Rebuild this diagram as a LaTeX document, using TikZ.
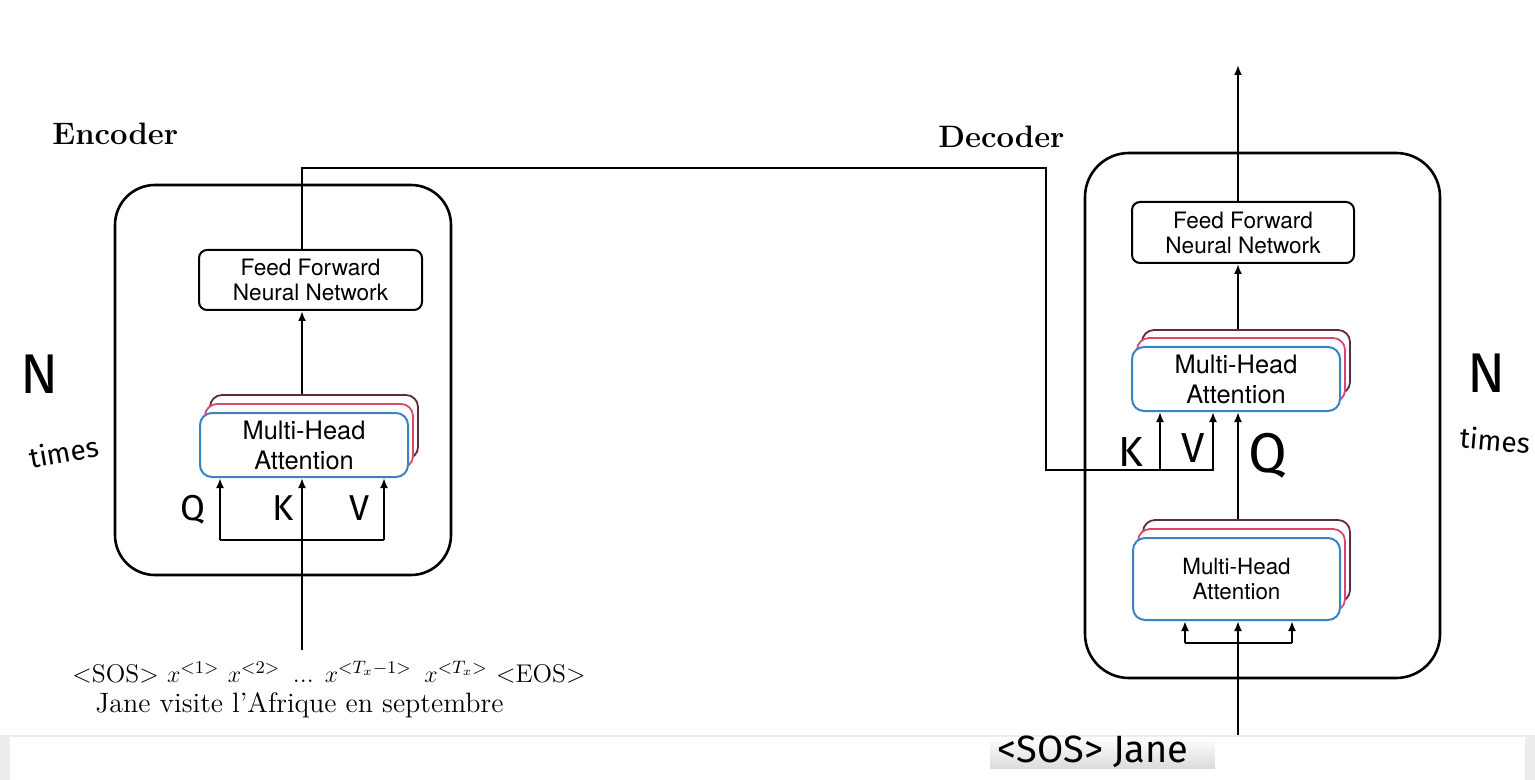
\documentclass[tikz,border=0pt]{standalone}
\usepackage{fontspec}
\setsansfont{TeX Gyre Heros}
\newfontfamily\hand{Fira Sans}
\usetikzlibrary{arrows.meta,fit}
\definecolor{mhablue}{HTML}{3B82C4}
\definecolor{mhapink}{HTML}{D9476E}
\definecolor{mhapurple}{HTML}{5E2A4A}
\begin{document}
\begin{tikzpicture}[x=0.5pt,y=-0.5pt,
  outer/.style={draw, line width=1.3pt, rounded corners=20pt, inner sep=0pt},
  ffn/.style={draw, line width=1pt, rounded corners=4pt, inner sep=0pt},
  ffntext/.style={align=center, inner sep=0pt, font=\sffamily\fontsize{11.3}{12.5}\selectfont},
  mhafront/.style={draw=mhablue, fill=white, line width=1pt, rounded corners=6pt, inner sep=0pt},
  mhaback/.style={draw=#1, fill=white, line width=0.9pt, rounded corners=6pt, inner sep=0pt},
  mhatext/.style 2 args={align=center, inner sep=0pt, font=\sffamily\fontsize{#1}{#2}\selectfont},
  arr/.style={-{Latex[length=5pt,width=4pt]}, line width=1pt},
  wire/.style={line width=1pt},
  hw/.style={inner sep=0pt, font=\hand\fontsize{#1}{#1}\selectfont},
  serif/.style={inner sep=0pt, anchor=west}
]
\useasboundingbox (0,0) rectangle (1535,780);
\fill[white] (0,0) rectangle (1535,780);

% ---------------- Encoder ----------------
\node[serif, font=\bfseries\fontsize{15.5}{18}\selectfont] (enclabel) at (52,134) {Encoder};
\node[outer, fit={(115,185) (451,575)}] (encbox) {};
\node[ffn, fit={(199,250) (422,310)}] (encffn) {};
\node[ffntext] (encffnt) at (encffn.center) {Feed Forward\\Neural Network};
\node[mhaback=mhapurple, fit={(210,395) (418,459)}] (encmha3) {};
\node[mhaback=mhapink, fit={(205,404) (413,468)}] (encmha2) {};
\node[mhafront, fit={(200,413) (408,477)}] (encmha) {};
\node[mhatext={12.7}{15}] (encmhat) at (encmha.center) {Multi-Head\\Attention};

\coordinate (encx) at (302,0);
\coordinate (encsrc) at (302,650);
\coordinate (encq) at (220,540);
\coordinate (encv) at (384,540);
\draw[arr] (encmha3.north -| encx) -- (encffn.south -| encx);
\draw[arr] (encsrc) -- (encmha.south -| encsrc);
\draw[wire] (encq) -- (encv);
\draw[arr] (encq) -- (encmha.south -| encq);
\draw[arr] (encv) -- (encmha.south -| encv);
\node[hw=18] (encQ) at (193,510) {Q};
\node[hw=18] (encK) at (283,508) {K};
\node[hw=18] (encV) at (360,508) {V};

\node[serif, font=\fontsize{12.8}{15}\selectfont] (enctok) at (72,672)
  {\textless SOS\textgreater{} $x^{<1>}$ $x^{<2>}$ \,... $x^{<T_x-1>}$ \,$x^{<T_x>}$ \textless EOS\textgreater};
\node[serif, font=\fontsize{14}{16}\selectfont] (encfr) at (95,705) {Jane visite l'Afrique en septembre};

\node[hw=28] (nleft) at (40,374) {N};
\node[hw=14, rotate=10] (tleft) at (64,452) {times};

% ---------------- Decoder ----------------
\node[serif, font=\bfseries\fontsize{15.5}{18}\selectfont] (declabel) at (938,137) {Decoder};
\node[outer, rounded corners=22pt, fit={(1085,153) (1440,678)}] (decbox) {};
\node[ffn, fit={(1132,202) (1354,263)}] (decffn) {};
\node[ffntext] (decffnt) at (decffn.center) {Feed Forward\\Neural Network};
\node[mhaback=mhapurple, fit={(1142,330) (1350,394)}] (decmha3) {};
\node[mhaback=mhapink, fit={(1137,338) (1345,402)}] (decmha2) {};
\node[mhafront, fit={(1132,347) (1340,411)}] (decmha) {};
\node[mhatext={12.7}{15}] (decmhat) at (decmha.center) {Multi-Head\\Attention};
\node[mhaback=mhapurple, fit={(1143,520) (1350,602)}] (declow3) {};
\node[mhaback=mhapink, fit={(1138,529) (1345,611)}] (declow2) {};
\node[mhafront, fit={(1133,538) (1340,620)}] (declow) {};
\node[mhatext={11.2}{13}] (declowt) at (declow.center) {Multi-Head\\Attention};

\coordinate (decx) at (1238,0);
\coordinate (decout) at (1238,65);
\coordinate (decsrc) at (1238,735);
\coordinate (decl) at (1185,643);
\coordinate (decr) at (1292,643);
\draw[arr] (decffn.north -| decx) -- (decout);
\draw[arr] (decmha3.north -| decx) -- (decffn.south -| decx);
\draw[arr] (declow3.north -| decx) -- (decmha.south -| decx);
\draw[arr] (decsrc) -- (declow.south -| decsrc);
\draw[wire] (decl) -- (decr);
\draw[arr] (decl) -- (declow.south -| decl);
\draw[arr] (decr) -- (declow.south -| decr);

% encoder output to decoder K, V
\coordinate (bend1) at (1046,168);
\coordinate (kvbus) at (1046,470);
\coordinate (kx) at (1160,470);
\coordinate (vx) at (1213,0);
\draw[arr] (encffn.north -| encx) |- (bend1) -- (kvbus) -| (decmha.south -| vx);
\draw[arr] (kx) -- (decmha.south -| kx);

\node[hw=21] (decK) at (1131,452) {K};
\node[hw=21] (decV) at (1193,448) {V};
\node[hw=28] (decQ) at (1268,456) {Q};

\node[hw=28] (nright) at (1487,373) {N};
\node[hw=14, rotate=-5] (tright) at (1495,440) {times};

% ---------------- bottom strip ----------------
\fill[black!7] (0,735) rectangle (1535,780);
\fill[white] (10,737) rectangle (1525,780);
\shade[top color=white, bottom color=black!14] (990,737) rectangle (1215,768);
\fill[white] (1215,740) rectangle (1525,767);
\node[hw=19] (sosjane) at (1093,752) {\textless SOS\textgreater{} Jane};
\end{tikzpicture}
\end{document}
